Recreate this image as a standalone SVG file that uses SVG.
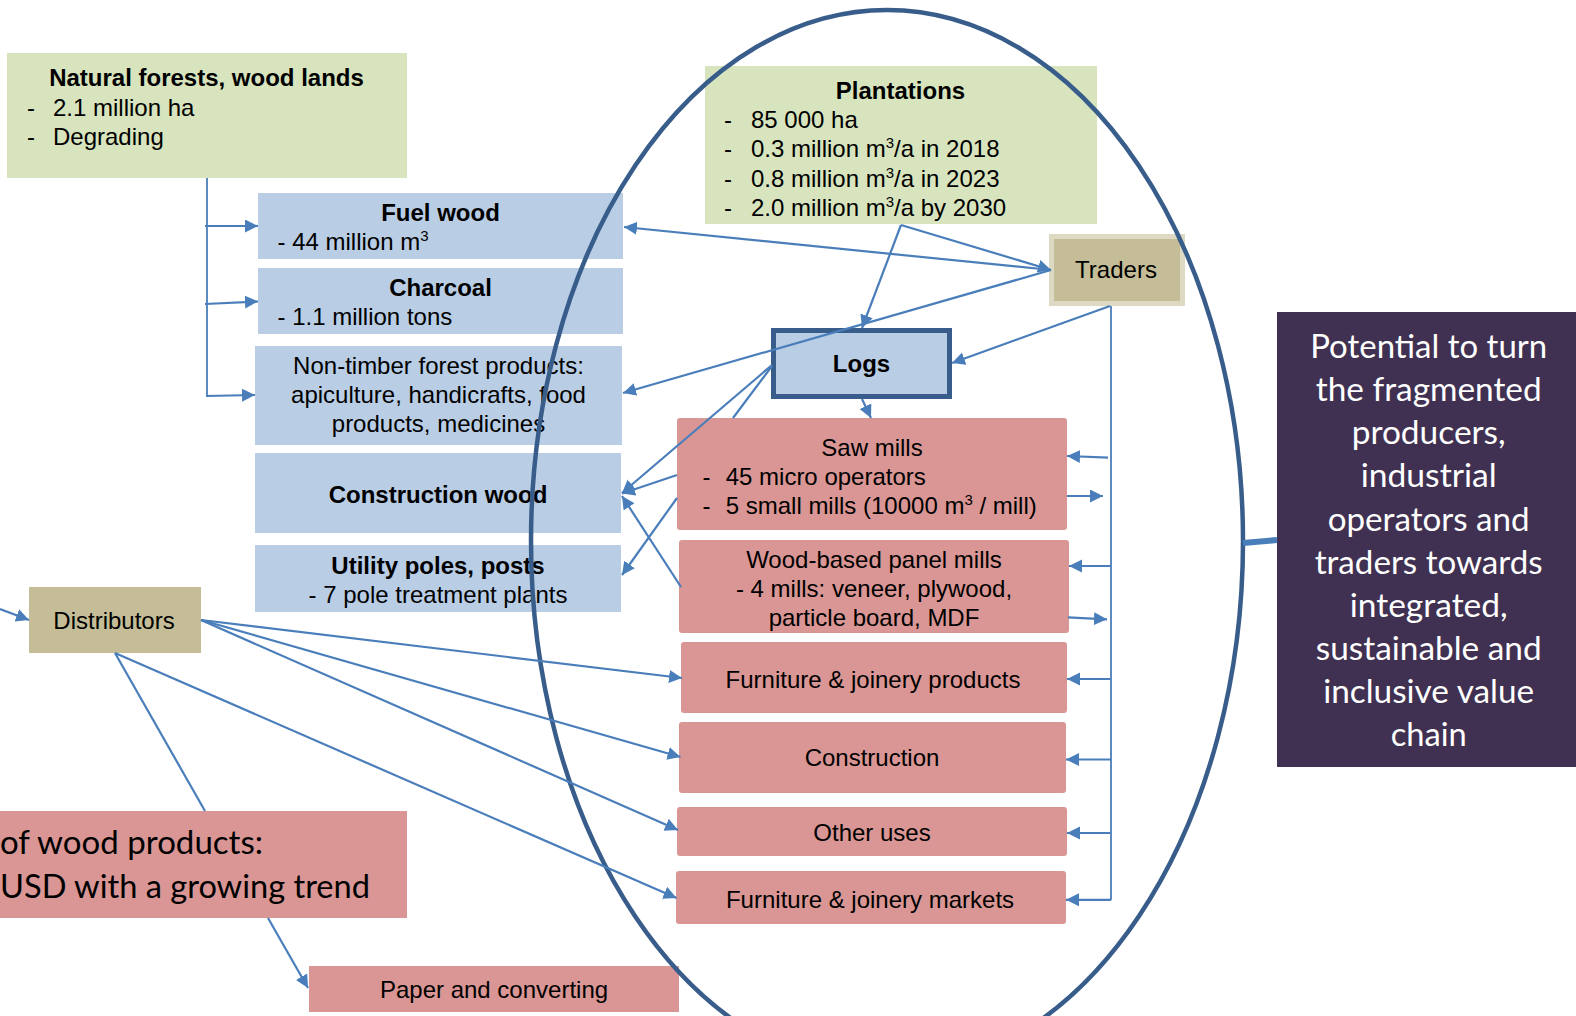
<svg xmlns="http://www.w3.org/2000/svg" width="1576" height="1016" viewBox="0 0 1576 1016">
<style>
text{font-family:"Liberation Sans",Arial,sans-serif;font-size:24px;fill:#000}
.b{font-weight:bold}
.m{text-anchor:middle}
.sup{font-size:15px}
.cal{font-family:Lato,"Open Sans",sans-serif;font-size:32px}
.w{fill:#fff}
.green{fill:#d7e4bd}
.blue{fill:#b9cde5}
.pink{fill:#d99694}
.tan{fill:#c4bd97}
.c line,.c path{stroke:#4a7ebb;stroke-width:2.2;fill:none}
.c .thin{stroke-width:1.8}
</style>
<defs>
<marker id="ah" markerUnits="userSpaceOnUse" markerWidth="14" markerHeight="14" refX="13" refY="6.5" orient="auto">
<path d="M0,0 L13,6.5 L0,13 z" fill="#4a7ebb"/>
</marker>
</defs>

<g id="natural-forests">
<rect class="green" x="7" y="53" width="400" height="125"/>
<text class="b m" x="206.5" y="86">Natural forests, wood lands</text>
<text x="27" y="115.5">-</text><text x="53" y="115.5">2.1 million ha</text>
<text x="27" y="144.5">-</text><text x="53" y="144.5">Degrading</text>
</g>

<g id="fuel-wood">
<rect class="blue" x="258" y="193" width="365" height="66"/>
<text class="b m" x="440.5" y="221">Fuel wood</text>
<text x="277.5" y="250">- 44 million m<tspan class="sup" dy="-9">3</tspan></text>
</g>

<g id="charcoal">
<rect class="blue" x="258" y="268" width="365" height="66"/>
<text class="b m" x="440.5" y="296">Charcoal</text>
<text x="277.5" y="325">- 1.1 million tons</text>
</g>

<g id="ntfp">
<rect class="blue" x="255" y="346" width="367" height="99"/>
<text class="m" x="438.5" y="374">Non-timber forest products:</text>
<text class="m" x="438.5" y="403">apiculture, handicrafts, food</text>
<text class="m" x="438.5" y="432">products, medicines</text>
</g>

<g id="construction-wood">
<rect class="blue" x="255" y="453" width="366" height="80"/>
<text class="b m" x="438" y="503">Construction wood</text>
</g>

<g id="utility-poles">
<rect class="blue" x="255" y="545" width="366" height="67"/>
<text class="b m" x="438" y="573.5">Utility poles, posts</text>
<text class="m" x="438" y="602.5">- 7 pole treatment plants</text>
</g>

<g id="distributors">
<rect class="tan" x="29" y="587" width="172" height="66"/>
<text class="m" x="114" y="629">Distributors</text>
</g>

<g id="market-value">
<rect class="pink" x="0" y="811" width="407" height="107"/>
<text class="cal" x="0" y="854" textLength="263" lengthAdjust="spacingAndGlyphs">of wood products:</text>
<text class="cal" x="0" y="898" textLength="370" lengthAdjust="spacingAndGlyphs">USD with a growing trend</text>
</g>

<g id="paper">
<rect class="pink" x="309" y="966" width="370" height="46"/>
<text class="m" x="494" y="997.5">Paper and converting</text>
</g>

<g id="plantations">
<rect class="green" x="705" y="66" width="392" height="158"/>
<text class="b m" x="900.5" y="99">Plantations</text>
<text x="724" y="128">-</text><text x="751" y="128">85 000 ha</text>
<text x="724" y="157">-</text><text x="751" y="157">0.3 million m<tspan class="sup" dy="-9">3</tspan><tspan dy="9">/a in 2018</tspan></text>
<text x="724" y="186.5">-</text><text x="751" y="186.5">0.8 million m<tspan class="sup" dy="-9">3</tspan><tspan dy="9">/a in 2023</tspan></text>
<text x="724" y="215.5">-</text><text x="751" y="215.5">2.0 million m<tspan class="sup" dy="-9">3</tspan><tspan dy="9">/a by 2030</tspan></text>
</g>

<g id="traders">
<rect class="tan" x="1051.5" y="236.5" width="131" height="67" stroke="#ddd9c3" stroke-width="5"/>
<text class="m" x="1116" y="278">Traders</text>
</g>

<g id="logs">
<rect class="blue" x="773.5" y="330.5" width="176" height="66" stroke="#385d8a" stroke-width="5"/>
<text class="b m" x="861.5" y="371.5">Logs</text>
</g>

<g id="saw-mills">
<rect class="pink" x="677" y="418" width="390" height="112" rx="3"/>
<text class="m" x="872" y="455.5">Saw mills</text>
<text x="702.5" y="484.5">-</text><text x="725.7" y="484.5">45 micro operators</text>
<text x="702.5" y="514">-</text><text x="725.7" y="514">5 small mills (10000 m<tspan class="sup" dy="-9">3</tspan><tspan dy="9"> / mill)</tspan></text>
</g>

<g id="panel-mills">
<rect class="pink" x="679" y="540" width="390" height="93" rx="3"/>
<text class="m" x="874" y="567.5">Wood-based panel mills</text>
<text class="m" x="874" y="597">- 4 mills: veneer, plywood,</text>
<text class="m" x="874" y="625.5">particle board, MDF</text>
</g>

<g id="furniture-products">
<rect class="pink" x="681" y="642" width="386" height="71" rx="3"/>
<text class="m" x="873" y="688">Furniture &amp; joinery products</text>
</g>

<g id="construction">
<rect class="pink" x="679" y="722" width="387" height="71" rx="3"/>
<text class="m" x="872" y="766">Construction</text>
</g>

<g id="other-uses">
<rect class="pink" x="677" y="807" width="390" height="49" rx="3"/>
<text class="m" x="872" y="840.5">Other uses</text>
</g>

<g id="furniture-markets">
<rect class="pink" x="676" y="871" width="390" height="53" rx="3"/>
<text class="m" x="870" y="907.5">Furniture &amp; joinery markets</text>
</g>

<g id="potential">
<rect x="1277" y="312" width="299" height="455" fill="#403152"/>
<text class="cal w m" x="1428.7" y="358" textLength="237" lengthAdjust="spacingAndGlyphs">Potential to turn</text>
<text class="cal w m" x="1428.7" y="401" textLength="226" lengthAdjust="spacingAndGlyphs">the fragmented</text>
<text class="cal w m" x="1428.7" y="444" textLength="154" lengthAdjust="spacingAndGlyphs">producers,</text>
<text class="cal w m" x="1428.7" y="487" textLength="136" lengthAdjust="spacingAndGlyphs">industrial</text>
<text class="cal w m" x="1428.7" y="531" textLength="202" lengthAdjust="spacingAndGlyphs">operators and</text>
<text class="cal w m" x="1428.7" y="574" textLength="228" lengthAdjust="spacingAndGlyphs">traders towards</text>
<text class="cal w m" x="1428.7" y="617" textLength="158" lengthAdjust="spacingAndGlyphs">integrated,</text>
<text class="cal w m" x="1428.7" y="660" textLength="226" lengthAdjust="spacingAndGlyphs">sustainable and</text>
<text class="cal w m" x="1428.7" y="703" textLength="211" lengthAdjust="spacingAndGlyphs">inclusive value</text>
<text class="cal w m" x="1428.7" y="746" textLength="76" lengthAdjust="spacingAndGlyphs">chain</text>
</g>

<g id="value-chain-ellipse">
<ellipse cx="887" cy="541" rx="356" ry="531" fill="none" stroke="#385d8a" stroke-width="4.5"/>
</g>

<g id="connectors" class="c">
<line x1="1243" y1="543" x2="1277" y2="540" style="stroke-width:6"/>
<line class="thin" x1="207" y1="178" x2="207" y2="396"/>
<line x1="205" y1="226" x2="258" y2="226" marker-end="url(#ah)"/>
<line x1="205" y1="304" x2="258" y2="301.5" marker-end="url(#ah)"/>
<line x1="206" y1="396" x2="255" y2="395" marker-end="url(#ah)"/>
<line x1="901" y1="225" x2="1051" y2="270" marker-end="url(#ah)"/>
<line x1="901" y1="225" x2="862" y2="328" marker-end="url(#ah)"/>
<line x1="1051" y1="270" x2="624" y2="227" marker-end="url(#ah)"/>
<line x1="1051" y1="270" x2="623" y2="393" marker-end="url(#ah)"/>
<line x1="1110" y1="306" x2="952" y2="363" marker-end="url(#ah)"/>
<line class="thin" x1="1111" y1="306" x2="1111" y2="900"/>
<line x1="1108" y1="457.7" x2="1067" y2="456" marker-end="url(#ah)"/>
<line x1="1067" y1="496" x2="1103" y2="496" marker-end="url(#ah)"/>
<line x1="1111" y1="566" x2="1069" y2="566" marker-end="url(#ah)"/>
<line x1="1068" y1="617.3" x2="1107" y2="619.3" marker-end="url(#ah)"/>
<line x1="1111" y1="679" x2="1067" y2="679" marker-end="url(#ah)"/>
<line x1="1111" y1="759.5" x2="1066" y2="759.5" marker-end="url(#ah)"/>
<line x1="1111" y1="833" x2="1067" y2="833" marker-end="url(#ah)"/>
<line x1="1111" y1="899.8" x2="1066" y2="899.8" marker-end="url(#ah)"/>
<line x1="862" y1="399" x2="871" y2="418" marker-end="url(#ah)"/>
<line x1="772" y1="365" x2="622" y2="493" marker-end="url(#ah)"/>
<line x1="772" y1="366" x2="733" y2="418"/>
<line x1="677" y1="498" x2="622" y2="575" marker-end="url(#ah)"/>
<line x1="677" y1="475" x2="622" y2="493.5" marker-end="url(#ah)"/>
<line x1="681" y1="587" x2="622" y2="496" marker-end="url(#ah)"/>
<line x1="0" y1="609" x2="29" y2="620" marker-end="url(#ah)"/>
<line x1="201" y1="620" x2="682" y2="678" marker-end="url(#ah)"/>
<line x1="201" y1="620" x2="680.5" y2="757" marker-end="url(#ah)"/>
<line x1="201" y1="620" x2="678" y2="830" marker-end="url(#ah)"/>
<line x1="115" y1="653" x2="676.5" y2="898" marker-end="url(#ah)"/>
<line x1="115" y1="653" x2="205" y2="811"/>
<line x1="268" y1="918" x2="308" y2="988" marker-end="url(#ah)"/>
</g>
</svg>
